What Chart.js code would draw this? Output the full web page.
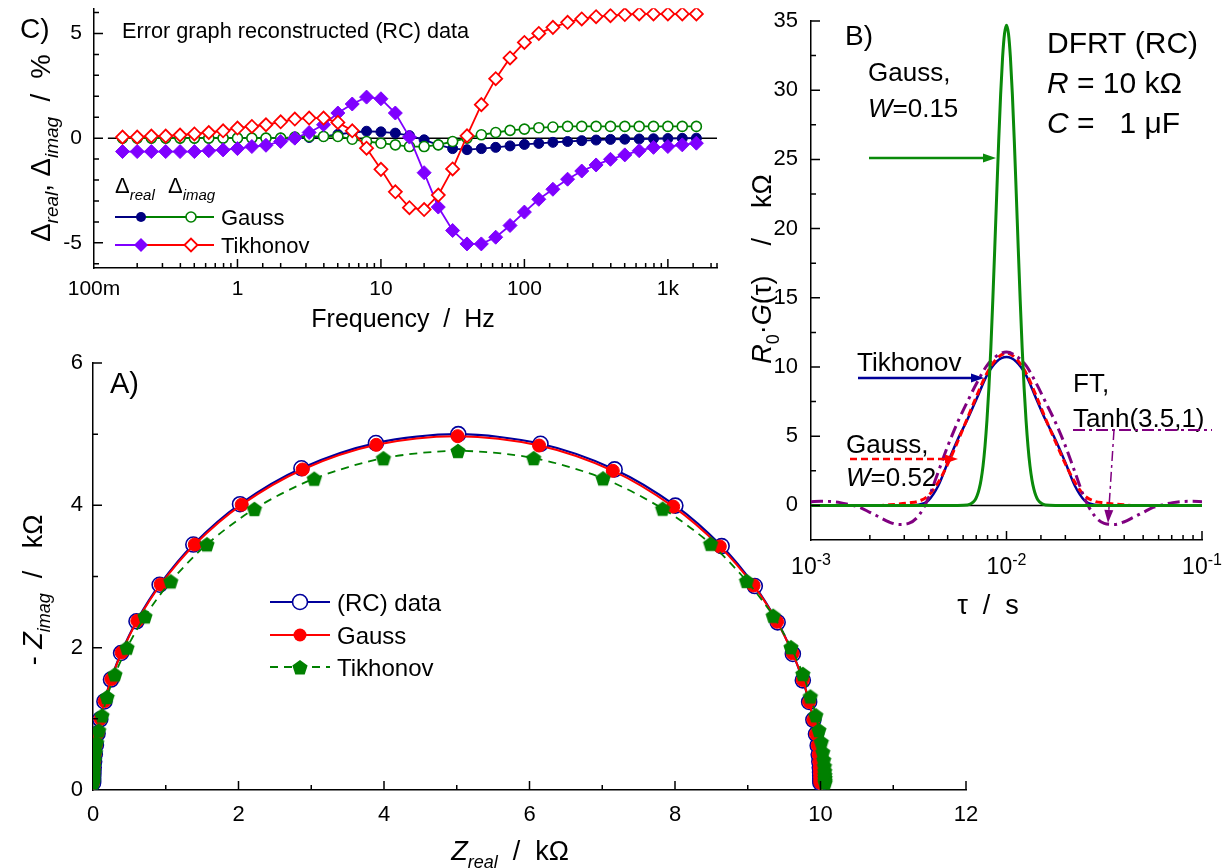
<!DOCTYPE html>
<html>
<head>
<meta charset="utf-8">
<title>DFRT (RC)</title>
<script src="https://cdn.jsdelivr.net/npm/chart.js@4.4.1/dist/chart.umd.min.js"></script>
<style>
  html, body { margin: 0; padding: 0; background: #fff; }
  #page { position: relative; width: 1224px; height: 868px; overflow: hidden; }
  canvas { position: absolute; }
  #chartA { left: 0; top: 340px; }
  #chartC { left: 0; top: 0; }
  #chartB { left: 740px; top: 0; }
</style>
</head>
<body>
<div id="page">
  <canvas id="chartA" width="1000" height="528"></canvas>
  <canvas id="chartC" width="740" height="340"></canvas>
  <canvas id="chartB" width="484" height="620"></canvas>
</div>
<script>
// ---------- data: panel C (error graph) ----------
const freq = [0.158, 0.2, 0.251, 0.316, 0.398, 0.501, 0.631, 0.794, 1, 1.26, 1.58, 2, 2.51, 3.16, 3.98, 5.01, 6.31, 7.94,
  10, 12.6, 15.8, 20, 25.1, 31.6, 39.8, 50.1, 63.1, 79.4, 100, 126, 158, 200, 251, 316, 398, 501, 631, 794, 1000, 1260, 1580];
const gaussDReal = [0, 0, 0, 0, 0, 0, 0, 0, 0, 0, 0, 0, 0, 0.03, 0.08, 0.18, 0.27, 0.33, 0.3, 0.24, 0.12, -0.08, -0.32, -0.5,
  -0.55, -0.5, -0.44, -0.37, -0.3, -0.25, -0.2, -0.16, -0.12, -0.09, -0.06, -0.05, -0.04, -0.03, -0.02, -0.01, 0];
const gaussDImag = [0, 0, 0, 0, 0, 0, 0, 0, 0, 0, 0, 0, 0.05, 0.08, 0.08, 0.08, -0.05, -0.16, -0.24, -0.32, -0.4, -0.4, -0.32,
  -0.16, 0, 0.16, 0.27, 0.37, 0.43, 0.5, 0.53, 0.56, 0.56, 0.56, 0.56, 0.56, 0.56, 0.56, 0.56, 0.56, 0.56];
const tikDReal = [-0.64, -0.64, -0.64, -0.64, -0.64, -0.64, -0.6, -0.56, -0.5, -0.4, -0.34, -0.16, 0, 0.27, 0.64, 1.2, 1.63, 1.96,
  1.88, 1.2, 0.05, -1.65, -3.29, -4.41, -5.05, -5.05, -4.73, -4.17, -3.53, -2.92, -2.44, -1.96, -1.57, -1.28, -1.01, -0.8,
  -0.6, -0.44, -0.4, -0.32, -0.24];
const tikDImag = [0.05, 0.05, 0.1, 0.1, 0.15, 0.2, 0.27, 0.35, 0.48, 0.56, 0.64, 0.78, 0.91, 0.96, 0.96, 0.75, 0.35, -0.48,
  -1.49, -2.56, -3.32, -3.41, -2.72, -1.47, 0.11, 1.6, 2.84, 3.83, 4.57, 5.0, 5.29, 5.53, 5.69, 5.8, 5.85, 5.9, 5.93, 5.93,
  5.93, 5.93, 5.93];
const cTickVals = [0.1, 1, 10, 100, 1000];
const cTickLabels = ['100m', '1', '10', '100', '1k'];

// ---------- data: panel A (Nyquist, kOhm) ----------
const rcReal = [9.999, 9.998, 9.998, 9.996, 9.994, 9.990, 9.984, 9.975, 9.961, 9.938, 9.902, 9.844, 9.757, 9.620, 9.411,
  9.097, 8.641, 8.005, 7.170, 6.151, 5.021, 3.889, 2.865, 2.021, 1.379, 0.916, 0.598, 0.386, 0.247, 0.157, 0.100, 0.063,
  0.040, 0.025, 0.016, 0.010, 0.0064, 0.004, 0.0025, 0.0016, 0.001];
const rcImag = [0.0995, 0.126, 0.158, 0.199, 0.250, 0.315, 0.396, 0.498, 0.626, 0.786, 0.986, 1.237, 1.541, 1.912, 2.356,
  2.866, 3.427, 3.996, 4.505, 4.865, 5.000, 4.875, 4.521, 4.016, 3.449, 2.884, 2.371, 1.925, 1.552, 1.244, 0.994, 0.793,
  0.632, 0.503, 0.400, 0.317, 0.252, 0.200, 0.159, 0.126, 0.100];
const gaussReal = [9.999, 9.998, 9.998, 9.996, 9.994, 9.990, 9.984, 9.975, 9.961, 9.938, 9.902, 9.844, 9.757, 9.617, 9.403,
  9.080, 8.616, 7.975, 7.145, 6.132, 5.012, 3.894, 2.882, 2.044, 1.399, 0.931, 0.609, 0.393, 0.252, 0.160, 0.102, 0.065,
  0.041, 0.026, 0.016, 0.010, 0.0064, 0.004, 0.0025, 0.0016, 0.001];
const gaussImag = [0.0995, 0.126, 0.158, 0.199, 0.250, 0.315, 0.396, 0.498, 0.626, 0.786, 0.986, 1.237, 1.546, 1.920, 2.364,
  2.874, 3.422, 3.982, 4.485, 4.840, 4.972, 4.850, 4.504, 4.009, 3.449, 2.889, 2.378, 1.932, 1.559, 1.250, 0.999, 0.797,
  0.636, 0.506, 0.402, 0.319, 0.253, 0.201, 0.160, 0.127, 0.101];
const tikReal = [10.063, 10.062, 10.062, 10.060, 10.058, 10.054, 10.044, 10.031, 10.011, 9.978, 9.936, 9.860, 9.757, 9.594,
  9.349, 8.983, 8.489, 7.830, 7.011, 6.057, 5.017, 3.992, 3.041, 2.219, 1.567, 1.069, 0.714, 0.468, 0.302, 0.194, 0.124,
  0.079, 0.050, 0.032, 0.020, 0.0125, 0.008, 0.005, 0.0032, 0.002, 0.0013];
const tikImag = [0.105, 0.131, 0.168, 0.209, 0.265, 0.335, 0.423, 0.533, 0.674, 0.842, 1.050, 1.314, 1.631, 2.006, 2.449,
  2.938, 3.460, 3.953, 4.379, 4.664, 4.765, 4.662, 4.375, 3.950, 3.453, 2.932, 2.440, 2.000, 1.624, 1.307, 1.047, 0.837,
  0.668, 0.532, 0.423, 0.336, 0.267, 0.212, 0.168, 0.133, 0.106];

// ---------- data: panel B (DFRT, kOhm) ----------
const tauB = [0.001, 0.00112, 0.00126, 0.00141, 0.00158, 0.00178, 0.002, 0.00224, 0.00251, 0.00282, 0.00316, 0.00355,
  0.00398, 0.00447, 0.00501, 0.00562, 0.00631, 0.00708, 0.00794, 0.00891, 0.01, 0.0112, 0.0126, 0.0141, 0.0158, 0.0178,
  0.02, 0.0224, 0.0251, 0.0282, 0.0316, 0.0355, 0.0398, 0.0447, 0.0501, 0.0562, 0.0631, 0.0708, 0.0794, 0.0891, 0.1];
const dfrtTik = [0, 0, 0, 0, 0, 0, 0, 0, 0, 0, 0, 0.05, 0.35, 1.4, 3.1, 4.75, 6.2, 7.8, 9.4, 10.4, 10.72,
  10.4, 9.4, 7.8, 6.2, 4.75, 3.1, 1.4, 0.35, 0.05, 0, 0, 0, 0, 0, 0, 0, 0, 0, 0, 0];
const dfrtGaussWide = [0, 0, 0, 0, 0, 0, 0, 0, 0.04, 0.1, 0.18, 0.3, 0.7, 1.65, 3.0, 4.6, 6.3, 8.0, 9.55, 10.6, 11.0,
  10.6, 9.55, 8.0, 6.3, 4.6, 3.0, 1.65, 0.7, 0.3, 0.18, 0.1, 0.04, 0, 0, 0, 0, 0, 0, 0, 0];
const dfrtFT = [0.27, 0.3, 0.28, 0.2, 0.05, -0.15, -0.5, -0.85, -1.2, -1.38, -1.3, -0.75, 0.5, 2.4, 4.3, 6.0, 7.5, 8.9, 10.1,
  10.8, 11.08, 10.8, 10.1, 8.9, 7.5, 6.0, 4.3, 2.4, 0.5, -0.75, -1.3, -1.38, -1.2, -0.85, -0.5, -0.15, 0.05, 0.2, 0.28, 0.3, 0.27];
const tauNarrow = [0.001, 0.005623, 0.00631, 0.006607, 0.006918, 0.007079, 0.007244, 0.007413, 0.007586, 0.007762,
  0.007943, 0.008128, 0.008318, 0.008511, 0.00871, 0.008913, 0.00912, 0.009333, 0.00955, 0.009772, 0.01,
  0.010233, 0.010471, 0.010715, 0.010965, 0.01122, 0.011482, 0.011749, 0.012023, 0.012303, 0.012589, 0.012882,
  0.013183, 0.01349, 0.013804, 0.014125, 0.014454, 0.015136, 0.015849, 0.017783, 0.1];
const dfrtGaussNarrow = [0, 0, 0.03, 0.13, 0.41, 0.71, 1.17, 1.86, 2.86, 4.27, 6.14, 8.5, 11.4, 14.84, 18.6, 22.5, 26.3,
  29.7, 32.38, 34.1, 34.7, 34.1, 32.38, 29.7, 26.3, 22.5, 18.6, 14.84, 11.4, 8.5, 6.14, 4.27, 2.86, 1.86, 1.17, 0.71,
  0.41, 0.13, 0.03, 0, 0];
const bTickVals = [0.001, 0.01, 0.1];
const bTickExp = ['-3', '-2', '-1'];

// ---------- helpers ----------
const FONT = '"Liberation Sans", Arial, Helvetica, sans-serif';
const fnt = (size, it) => (it ? 'italic ' : '') + size + 'px ' + FONT;
const zip = (xs, ys) => xs.map((x, i) => ({ x: x, y: ys[i] }));
const isDecade = v => { const l = Math.log10(v); return Math.abs(l - Math.round(l)) < 1e-6; };

// text pieces: [text, flags]; i = italic, b = subscript, p = superscript
function richText(ctx, parts, x, y, size, align, rot, color) {
  ctx.save();
  ctx.translate(x, y);
  if (rot) ctx.rotate(rot);
  ctx.fillStyle = color || '#000';
  ctx.textBaseline = 'alphabetic';
  ctx.textAlign = 'left';
  const segs = parts.map(p => {
    const fl = p[1] || '';
    const small = fl.indexOf('b') >= 0 || fl.indexOf('p') >= 0;
    ctx.font = fnt(small ? Math.round(size * 0.68) : size, fl.indexOf('i') >= 0);
    let dy = 0;
    if (fl.indexOf('b') >= 0) dy = size * 0.3;
    if (fl.indexOf('p') >= 0) dy = -size * 0.42;
    return { t: p[0], f: ctx.font, dy: dy, w: ctx.measureText(p[0]).width };
  });
  const total = segs.reduce((a, s) => a + s.w, 0);
  let cx = align === 'center' ? -total / 2 : (align === 'right' ? -total : 0);
  segs.forEach(s => { ctx.font = s.f; ctx.fillText(s.t, cx, size * 0.36 + s.dy); cx += s.w; });
  ctx.restore();
}

function arrow(ctx, x1, y1, x2, y2, color, lw, dash) {
  const a = Math.atan2(y2 - y1, x2 - x1), L = 13, H = 4.5;
  const bx = x2 - L * Math.cos(a), by = y2 - L * Math.sin(a);
  ctx.save();
  ctx.strokeStyle = color; ctx.fillStyle = color; ctx.lineWidth = lw;
  ctx.setLineDash(dash || []);
  ctx.beginPath(); ctx.moveTo(x1, y1); ctx.lineTo(bx, by); ctx.stroke();
  ctx.setLineDash([]);
  ctx.beginPath();
  ctx.moveTo(x2, y2);
  ctx.lineTo(bx + H * Math.sin(a), by - H * Math.cos(a));
  ctx.lineTo(bx - H * Math.sin(a), by + H * Math.cos(a));
  ctx.closePath(); ctx.fill();
  ctx.restore();
}

function line(ctx, x1, y1, x2, y2, color, lw, dash) {
  ctx.save();
  ctx.strokeStyle = color; ctx.lineWidth = lw; ctx.setLineDash(dash || []);
  ctx.beginPath(); ctx.moveTo(x1, y1); ctx.lineTo(x2, y2); ctx.stroke();
  ctx.restore();
}

function pentPath(ctx, x, y, r) {
  for (let i = 0; i < 5; i++) {
    const a = -Math.PI / 2 + i * 2 * Math.PI / 5;
    ctx.lineTo(x + r * Math.cos(a), y + r * Math.sin(a));
  }
  ctx.closePath();
}

function mark(ctx, kind, x, y, r, fill, stroke, lw) {
  ctx.save();
  ctx.beginPath();
  if (kind === 'circle') ctx.arc(x, y, r, 0, Math.PI * 2);
  else if (kind === 'diamond') { ctx.moveTo(x - r, y); ctx.lineTo(x, y - r); ctx.lineTo(x + r, y); ctx.lineTo(x, y + r); ctx.closePath(); }
  else pentPath(ctx, x, y, r);
  ctx.fillStyle = fill; ctx.fill();
  if (stroke) { ctx.strokeStyle = stroke; ctx.lineWidth = lw; ctx.stroke(); }
  ctx.restore();
}

function pentagonImage(r, color) {
  const c = document.createElement('canvas');
  const s = Math.ceil(2 * r + 2);
  c.width = s; c.height = s;
  const g = c.getContext('2d');
  g.beginPath(); pentPath(g, s / 2, s / 2 + 0.8, r);
  g.fillStyle = color; g.fill();
  return c;
}

// ticks drawn inside the plot, like the original
function inwardTicks(chart, xMajor, yMajor) {
  const ctx = chart.ctx, a = chart.chartArea, sx = chart.scales.x, sy = chart.scales.y;
  ctx.save();
  ctx.strokeStyle = '#000'; ctx.lineWidth = 1.5;
  ctx.beginPath();
  sx.ticks.forEach(t => {
    const p = sx.getPixelForValue(t.value);
    if (p < a.left + 1 || p > a.right + 0.5) return;
    const L = xMajor(t.value) ? 9 : 5;
    ctx.moveTo(p, a.bottom); ctx.lineTo(p, a.bottom - L);
  });
  sy.ticks.forEach(t => {
    const p = sy.getPixelForValue(t.value);
    if (p > a.bottom - 1 || p < a.top - 0.5) return;
    const L = yMajor(t.value) ? 9 : 5;
    ctx.moveTo(a.left, p); ctx.lineTo(a.left + L, p);
  });
  ctx.stroke();
  ctx.restore();
}

// fixed axis size, and no extra padding for the end labels
const fixW = w => s => { s.width = w; s.paddingTop = 0; s.paddingBottom = 0; };
const fixH = h => s => { s.height = h; s.paddingLeft = 0; s.paddingRight = 0; };

function axisBase(fontSize, pad) {
  return {
    grid: { display: true, drawOnChartArea: false, drawTicks: false },
    border: { display: true, color: '#000', width: 1.5 },
    ticks: { color: '#000', font: { family: FONT, size: fontSize }, padding: pad, autoSkip: false, maxRotation: 0 }
  };
}

const commonOpts = {
  responsive: false,
  animation: false,
  events: [],
  plugins: { legend: { display: false }, tooltip: { enabled: false } }
};

// ---------- panel A ----------
const NAVY = '#00009C', RED = '#FF0000', GREEN = '#008000';
const pent = pentagonImage(8, GREEN);

const axA = axisBase(22, 12), ayA = axisBase(22, 10);
new Chart(document.getElementById('chartA'), {
  type: 'scatter',
  data: {
    datasets: [
      { data: zip(tikReal, tikImag), showLine: true, borderColor: GREEN, borderWidth: 1.8, borderDash: [8, 6],
        tension: 0.3, pointStyle: pent, pointRadius: 8 },
      { data: zip(gaussReal, gaussImag), showLine: true, borderColor: RED, borderWidth: 2, tension: 0.3,
        pointStyle: 'circle', pointRadius: 6.5, pointBackgroundColor: RED, pointBorderColor: RED, pointBorderWidth: 1 },
      { data: zip(rcReal, rcImag), showLine: true, borderColor: NAVY, borderWidth: 2.2, tension: 0.3,
        pointStyle: 'circle', pointRadius: 7.5, pointBackgroundColor: '#fff', pointBorderColor: NAVY, pointBorderWidth: 1.6 }
    ]
  },
  options: Object.assign({}, commonOpts, {
    layout: { padding: { left: 0, top: 23, right: 34, bottom: 28 } },
    scales: {
      x: Object.assign(axA, {
        type: 'linear', min: 0, max: 12,
        afterBuildTicks: s => { s.ticks = [0, 1, 2, 3, 4, 5, 6, 7, 8, 9, 10, 11, 12].map(v => ({ value: v })); },
        afterFit: fixH(50),
        ticks: Object.assign(axA.ticks, { callback: v => (v % 2 === 0 ? String(v) : '') })
      }),
      y: Object.assign(ayA, {
        type: 'linear', min: 0, max: 6,
        afterBuildTicks: s => { s.ticks = [0, 1, 2, 3, 4, 5, 6].map(v => ({ value: v })); },
        afterFit: fixW(93),
        ticks: Object.assign(ayA.ticks, { callback: v => (v % 2 === 0 ? String(v) : '') })
      })
    }
  }),
  plugins: [{
    id: 'decoA',
    afterDraw(chart) {
      const ctx = chart.ctx;
      inwardTicks(chart, v => v % 2 === 0, v => v % 2 === 0);
      ctx.save();
      ctx.translate(0, -340);
      richText(ctx, [['A)']], 110, 383, 29, 'left');
      // legend
      line(ctx, 270, 602, 330, 602, NAVY, 2.2);
      mark(ctx, 'circle', 300, 602, 7.5, '#fff', NAVY, 1.6);
      richText(ctx, [['(RC) data']], 337, 602, 24, 'left');
      line(ctx, 270, 635, 330, 635, RED, 2);
      mark(ctx, 'circle', 300, 635, 6.5, RED);
      richText(ctx, [['Gauss']], 337, 635, 24, 'left');
      line(ctx, 270, 667, 330, 667, GREEN, 1.8, [8, 6]);
      mark(ctx, 'pent', 300, 668, 8, GREEN);
      richText(ctx, [['Tikhonov']], 337, 667, 24, 'left');
      // axis titles
      richText(ctx, [['Z', 'i'], ['real', 'ib'], ['  /  kΩ']], 510, 850, 27, 'center');
      richText(ctx, [['- '], ['Z', 'i'], ['imag', 'ib'], ['  /   kΩ']], 32, 590, 27, 'center', -Math.PI / 2);
      ctx.restore();
    }
  }]
});

// ---------- panel C ----------
const C_NAVY = '#000080', C_GREEN = '#008000', C_PURPLE = '#7F00FF', C_RED = '#FF0000';
const axC = axisBase(21, 9), ayC = axisBase(21, 12);
new Chart(document.getElementById('chartC'), {
  type: 'scatter',
  data: {
    datasets: [
      { data: zip(freq, tikDImag), showLine: true, borderColor: C_RED, borderWidth: 1.8, pointStyle: 'rectRot',
        pointRadius: 6.5, pointBackgroundColor: '#fff', pointBorderColor: C_RED, pointBorderWidth: 1.8 },
      { data: zip(freq, tikDReal), showLine: true, borderColor: C_PURPLE, borderWidth: 1.8, pointStyle: 'rectRot',
        pointRadius: 7, pointBackgroundColor: C_PURPLE, pointBorderColor: C_PURPLE, pointBorderWidth: 1 },
      { data: zip(freq, gaussDImag), showLine: true, borderColor: C_GREEN, borderWidth: 1.8, pointStyle: 'circle',
        pointRadius: 5, pointBackgroundColor: '#fff', pointBorderColor: C_GREEN, pointBorderWidth: 1.6 },
      { data: zip(freq, gaussDReal), showLine: true, borderColor: C_NAVY, borderWidth: 1.8, pointStyle: 'circle',
        pointRadius: 5, pointBackgroundColor: C_NAVY, pointBorderColor: C_NAVY, pointBorderWidth: 1 }
    ]
  },
  options: Object.assign({}, commonOpts, {
    layout: { padding: { left: 0, top: 8, right: 23, bottom: 32 } },
    scales: {
      x: Object.assign(axC, {
        type: 'logarithmic', min: 0.1, max: 2200,
        afterFit: fixH(40),
        ticks: Object.assign(axC.ticks, {
          callback: v => { const i = cTickVals.findIndex(t => Math.abs(t - v) < t * 1e-6); return i >= 0 ? cTickLabels[i] : ''; }
        })
      }),
      y: Object.assign(ayC, {
        type: 'linear', min: -6.2, max: 6.2,
        afterBuildTicks: s => { s.ticks = [-6, -5, -4, -3, -2, -1, 0, 1, 2, 3, 4, 5, 6].map(v => ({ value: v })); },
        afterFit: fixW(94),
        ticks: Object.assign(ayC.ticks, { callback: v => (v % 5 === 0 ? String(v) : '') })
      })
    }
  }),
  plugins: [{
    id: 'decoC',
    beforeDatasetsDraw(chart) {
      const a = chart.chartArea, y0 = chart.scales.y.getPixelForValue(0);
      line(chart.ctx, chart.scales.x.getPixelForValue(0.125), y0, a.right, y0, '#000', 1.5);
    },
    afterDraw(chart) {
      const ctx = chart.ctx;
      inwardTicks(chart, isDecade, v => v % 5 === 0);
      richText(ctx, [['C)']], 20, 28, 28, 'left');
      richText(ctx, [['Error graph reconstructed (RC) data']], 122, 30, 21.7, 'left');
      // legend
      richText(ctx, [['Δ'], ['real', 'ib']], 115, 185, 22, 'left');
      richText(ctx, [['Δ'], ['imag', 'ib']], 168, 185, 22, 'left');
      line(ctx, 115, 217, 141, 217, C_NAVY, 2);
      line(ctx, 141, 217, 214, 217, C_GREEN, 2);
      mark(ctx, 'circle', 141, 217, 5, C_NAVY);
      mark(ctx, 'circle', 191, 217, 5, '#fff', C_GREEN, 1.6);
      richText(ctx, [['Gauss']], 221, 217, 22, 'left');
      line(ctx, 115, 245, 141, 245, C_PURPLE, 2);
      line(ctx, 141, 245, 214, 245, C_RED, 2);
      mark(ctx, 'diamond', 141, 245, 7, C_PURPLE);
      mark(ctx, 'diamond', 191, 245, 6.5, '#fff', C_RED, 1.8);
      richText(ctx, [['Tikhonov']], 221, 245, 22, 'left');
      // axis titles
      richText(ctx, [['Frequency  /  Hz']], 403, 318, 25, 'center');
      richText(ctx, [['Δ'], ['real', 'ib'], [', Δ'], ['imag', 'ib'], ['  /  %']], 40, 148, 27.5, 'center', -Math.PI / 2);
    }
  }]
});

// ---------- panel B ----------
const B_GREEN = '#0A8A0A', B_PURPLE = '#800080', B_RED = '#FF0000', B_NAVY = '#000099';
const axB = axisBase(22, 10), ayB = axisBase(22, 13);
new Chart(document.getElementById('chartB'), {
  type: 'scatter',
  data: {
    datasets: [
      { data: zip(tauNarrow, dfrtGaussNarrow), showLine: true, borderColor: B_GREEN, borderWidth: 3,
        cubicInterpolationMode: 'monotone', pointRadius: 0 },
      { data: zip(tauB, dfrtFT), showLine: true, borderColor: B_PURPLE, borderWidth: 3, borderDash: [12, 5, 3, 5],
        cubicInterpolationMode: 'monotone', pointRadius: 0 },
      { data: zip(tauB, dfrtGaussWide), showLine: true, borderColor: B_RED, borderWidth: 3, borderDash: [7, 4],
        cubicInterpolationMode: 'monotone', pointRadius: 0 },
      { data: zip(tauB, dfrtTik), showLine: true, borderColor: B_NAVY, borderWidth: 2.5,
        cubicInterpolationMode: 'monotone', pointRadius: 0 }
    ]
  },
  options: Object.assign({}, commonOpts, {
    layout: { padding: { left: 0, top: 21, right: 22, bottom: 30 } },
    scales: {
      x: Object.assign(axB, {
        type: 'logarithmic', min: 0.001, max: 0.1,
        afterFit: fixH(50),
        ticks: Object.assign(axB.ticks, { callback: () => '' })
      }),
      y: Object.assign(ayB, {
        type: 'linear', min: -2.5, max: 35,
        afterBuildTicks: s => {
          const t = [];
          for (let v = 0; v <= 35; v += 2.5) t.push({ value: v });
          s.ticks = t;
        },
        afterFit: fixW(71),
        ticks: Object.assign(ayB.ticks, { callback: v => (v % 5 === 0 ? String(v) : '') })
      })
    }
  }),
  plugins: [{
    id: 'decoB',
    beforeDatasetsDraw(chart) {
      const a = chart.chartArea, y0 = chart.scales.y.getPixelForValue(0);
      line(chart.ctx, a.left, y0, a.right, y0, '#000', 1.5);
    },
    afterDraw(chart) {
      const ctx = chart.ctx, sx = chart.scales.x;
      inwardTicks(chart, isDecade, v => v % 5 === 0);
      bTickVals.forEach((v, i) => {
        richText(ctx, [['10'], [bTickExp[i], 'p']], sx.getPixelForValue(v), 566, 23, 'center');
      });
      ctx.save();
      ctx.translate(-740, 0);
      richText(ctx, [['B)']], 845, 35, 28, 'left');
      richText(ctx, [['DFRT (RC)']], 1047, 42, 30, 'left');
      richText(ctx, [['R', 'i'], [' = 10 kΩ']], 1047, 82, 30, 'left');
      richText(ctx, [['C', 'i'], [' =   1 μF']], 1047, 122, 30, 'left');
      // annotations
      richText(ctx, [['Gauss,']], 868, 72, 26, 'left');
      richText(ctx, [['W', 'i'], ['=0.15']], 868, 108, 26, 'left');
      arrow(ctx, 869, 158, 996, 158, B_GREEN, 2.5);
      richText(ctx, [['Tikhonov']], 857, 362, 26, 'left');
      arrow(ctx, 858, 378, 984, 378, B_NAVY, 2.5);
      richText(ctx, [['FT,']], 1073, 383, 26, 'left');
      richText(ctx, [['Tanh(3.5,1)']], 1073, 418, 26, 'left');
      line(ctx, 1073, 430, 1212, 430, B_PURPLE, 2, [12, 4, 3, 4]);
      arrow(ctx, 1114, 430, 1108, 523, B_PURPLE, 1.5, [10, 4, 3, 4]);
      richText(ctx, [['Gauss,']], 846, 444, 26, 'left');
      arrow(ctx, 850, 459, 958, 459, B_RED, 2.5, [7, 4]);
      richText(ctx, [['W', 'i'], ['=0.52']], 846, 477, 26, 'left');
      // axis titles
      richText(ctx, [['τ  /  s']], 988, 604, 27, 'center');
      richText(ctx, [['R', 'i'], ['0', 'b'], ['·'], ['G', 'i'], ['(τ)    /    kΩ']], 761, 269, 27, 'center', -Math.PI / 2);
      ctx.restore();
    }
  }]
});
</script>
</body>
</html>
